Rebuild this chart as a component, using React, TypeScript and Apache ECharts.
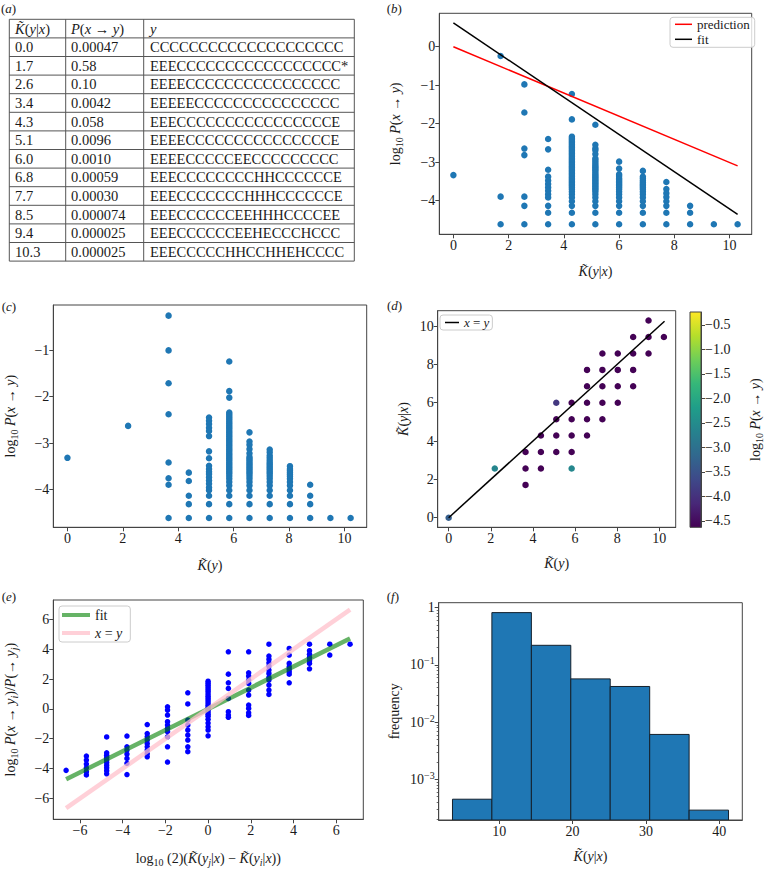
import React, { useEffect, useRef } from "react";
import * as echarts from "echarts";

const FONT = "Liberation Serif";
const TXT = "#1a1a1a";
const SPINE = "#444";
const KT = "K\u0303";

// ---------- (a) table ----------
const tableHeader = [`{i|${KT}}({i|y}|{i|x})`, "{i|P}({i|x} → {i|y})", "{i|y}"];
const tableK = ["0.0", "1.7", "2.6", "3.4", "4.3", "5.1", "6.0", "6.8", "7.7", "8.5", "9.4", "10.3"];
const tableP = ["0.00047", "0.58", "0.10", "0.0042", "0.058", "0.0096", "0.0010", "0.00059", "0.00030", "0.000074", "0.000025", "0.000025"];
const tableY = [
  "CCCCCCCCCCCCCCCCCCCC",
  "EEECCCCCCCCCCCCCCCCC*",
  "EEEECCCCCCCCCCCCCCCC",
  "EEEEECCCCCCCCCCCCCCC",
  "EEECCCCCCCCCCCCCCCCE",
  "EEEECCCCCCCCCCCCCCCE",
  "EEEECCCCCEECCCCCCCCC",
  "EEECCCCCCCCHHCCCCCCE",
  "EEECCCCCCCHHHCCCCCCE",
  "EEECCCCCCEEHHHCCCCEE",
  "EEECCCCCCEEHECCCHCCC",
  "EEECCCCCHHCCHHEHCCCC",
];

// ---------- (b) log10 P vs K(y|x) ----------
const bK = [0, 1.71, 2.57, 3.43, 4.29, 5.14, 6.0, 6.86, 7.71, 8.57, 9.43, 10.29];
const bLogP = [
  [-3.34],
  [-0.24, -3.9, -4.62],
  [-0.98, -1.71, -2.65, -2.82, -3.9, -4.14, -4.62],
  [-2.4, -2.67, -3.2, -3.38, -3.48, -3.57, -3.66, -3.75, -3.84, -3.92, -4.14, -4.32, -4.62],
  [-1.23, -1.89, -2.34, -2.38, -2.42, -2.46, -2.5, -2.54, -2.58, -2.62, -2.66, -2.7, -2.74, -2.78, -2.82, -2.86, -2.9, -2.94, -2.98, -3.02, -3.06, -3.1, -3.14, -3.18, -3.22, -3.26, -3.3, -3.34, -3.38, -3.42, -3.46, -3.5, -3.54, -3.58, -3.62, -3.66, -3.71, -3.77, -3.84, -3.92, -4.02, -4.14, -4.32, -4.62],
  [-2.03, -2.55, -2.64, -2.69, -2.79, -2.9, -2.95, -3.0, -3.05, -3.1, -3.14, -3.18, -3.22, -3.27, -3.32, -3.36, -3.4, -3.44, -3.48, -3.52, -3.56, -3.6, -3.64, -3.68, -3.72, -3.77, -3.84, -3.92, -4.02, -4.14, -4.32, -4.62],
  [-2.99, -3.17, -3.32, -3.36, -3.42, -3.46, -3.5, -3.54, -3.58, -3.62, -3.66, -3.71, -3.77, -3.84, -3.92, -4.02, -4.14, -4.32, -4.62],
  [-3.23, -3.38, -3.43, -3.48, -3.53, -3.58, -3.62, -3.66, -3.71, -3.77, -3.84, -3.92, -4.02, -4.14, -4.32, -4.62],
  [-3.52, -3.7, -3.81, -3.91, -4.02, -4.14, -4.32, -4.62],
  [-4.14, -4.32, -4.62],
  [-4.62],
  [-4.62],
];
const bPredLine = [[0, 0], [10.29, -3.1]];
const bFitLine = [[0, 0.62], [10.29, -4.36]];

// ---------- (c) log10 P vs K(y) ----------
const cK = [0, 2.19, 3.65, 4.38, 5.11, 5.84, 6.57, 7.3, 8.03, 8.76, 9.49, 10.22];
const cLogP = [
  [-3.32],
  [-2.63],
  [-0.25, -1.0, -1.71, -2.38, -3.42, -3.76, -3.9, -4.62],
  [-3.64, -3.82, -4.14, -4.32, -4.62],
  [-2.45, -2.52, -2.59, -2.67, -2.74, -2.85, -3.18, -3.33, -3.49, -3.56, -3.62, -3.67, -3.74, -3.81, -3.88, -3.96, -4.02, -4.14, -4.32, -4.62],
  [-1.24, -1.88, -2.02, -2.34, -2.38, -2.42, -2.46, -2.5, -2.54, -2.58, -2.62, -2.66, -2.7, -2.74, -2.78, -2.82, -2.86, -2.9, -2.94, -2.98, -3.02, -3.06, -3.1, -3.14, -3.18, -3.22, -3.26, -3.3, -3.34, -3.38, -3.42, -3.46, -3.5, -3.54, -3.58, -3.62, -3.66, -3.71, -3.77, -3.84, -3.92, -4.02, -4.14, -4.32, -4.62],
  [-2.77, -2.97, -3.04, -3.13, -3.22, -3.3, -3.34, -3.38, -3.42, -3.46, -3.5, -3.54, -3.58, -3.62, -3.66, -3.71, -3.77, -3.84, -3.92, -4.02, -4.14, -4.32, -4.62],
  [-3.14, -3.2, -3.27, -3.32, -3.37, -3.42, -3.46, -3.5, -3.54, -3.58, -3.62, -3.66, -3.71, -3.77, -3.84, -3.92, -4.02, -4.14, -4.32, -4.62],
  [-3.5, -3.56, -3.6, -3.64, -3.68, -3.72, -3.77, -3.84, -3.92, -4.02, -4.14, -4.32, -4.62],
  [-3.9, -4.14, -4.32, -4.62],
  [-4.62],
  [-4.62],
];

// ---------- (d) K(y|x) vs K(y), colour = log10 P ----------
const dKy = [0, 2.19, 3.65, 3.65, 3.65, 4.38, 4.38, 4.38, 5.11, 5.11, 5.11, 5.11, 5.84, 5.84, 5.84, 5.84, 5.84, 6.57, 6.57, 6.57, 6.57, 6.57, 7.3, 7.3, 7.3, 7.3, 7.3, 8.03, 8.03, 8.03, 8.03, 8.76, 8.76, 8.76, 8.76, 9.49, 9.49, 9.49, 10.22];
const dKyx = [0, 2.57, 1.71, 2.57, 3.43, 2.57, 3.43, 4.29, 3.43, 4.29, 5.14, 6.0, 2.57, 3.43, 4.29, 5.14, 6.0, 4.29, 5.14, 6.0, 6.86, 7.71, 5.14, 6.0, 6.86, 7.71, 8.57, 6.0, 6.86, 7.71, 8.57, 6.86, 7.71, 8.57, 9.43, 8.57, 9.43, 10.29, 9.43];
const dLogP = [-3.33, -2.63, -4.62, -4.62, -4.62, -4.62, -4.62, -4.62, -4.62, -4.62, -4.62, -3.9, -2.6, -4.62, -4.62, -4.62, -4.62, -4.62, -4.62, -4.62, -4.62, -4.62, -4.62, -4.62, -4.62, -4.62, -4.62, -4.62, -4.62, -4.62, -4.62, -4.62, -4.62, -4.62, -4.62, -4.62, -4.62, -4.62, -4.62];
const dDiag = [[0, 0], [10.25, 10.25]];
const viridis = ["#440154", "#482878", "#3e4989", "#31688e", "#26828e", "#1f9e89", "#35b779", "#6ece58", "#b5de2b", "#fde725"];
const cbTicks = [-4.5, -4.0, -3.5, -3.0, -2.5, -2.0, -1.5, -1.0, -0.5];

// ---------- (e) log ratio vs scaled K difference ----------
const eX = [-6.65, -5.7, -4.75, -3.8, -2.85, -1.9, -0.95, 0, 0.95, 1.9, 2.85, 3.8, 4.75, 5.7, 6.65];
const eY = [
  [-4.12],
  [-3.16, -3.43, -3.7, -3.95, -4.21, -4.43],
  [-1.88, -2.94, -3.1, -3.26, -3.42, -3.6, -3.78, -3.95, -4.14, -4.35],
  [-1.82, -2.54, -2.76, -3.03, -3.32, -3.65, -4.4],
  [-1.05, -1.65, -1.87, -2.09, -2.32, -2.54, -2.76, -3.0, -3.21],
  [0.14, -0.08, -0.41, -0.86, -1.08, -1.31, -1.53, -1.87, -2.54, -3.56],
  [1.08, 0.33, -0.75, -1.08, -1.42, -1.75, -2.09, -2.54, -2.87],
  [1.86, 1.72, 1.58, 1.44, 1.3, 1.16, 1.0, 0.85, 0.7, 0.55, 0.4, 0.25, 0.1, -0.05, -0.2, -0.35, -0.5, -0.7, -0.95, -1.2, -1.42, -1.8],
  [3.83, 2.33, 1.75, 1.37, 0.7, -0.19, -0.41, -0.56],
  [3.83, 2.42, 2.2, 1.93, 1.71, 1.26, 0.93, 0.26, 0.03, -0.26, -0.44],
  [4.34, 3.54, 3.32, 3.09, 2.87, 2.6, 2.38, 2.11, 1.93, 1.6, 1.26, 0.97],
  [4.05, 3.61, 3.05, 2.82, 2.65, 2.49, 2.33, 1.75],
  [4.34, 3.9, 3.67, 3.45, 3.23, 3.05, 2.69],
  [4.34, 3.61],
  [4.34],
];
const eFitLine = [[-6.65, -4.72], [6.65, 4.72]];
const eDiag = [[-6.65, -6.65], [6.65, 6.65]];

// ---------- (f) histogram ----------
const fEdges = [3.6, 8.98, 14.37, 19.75, 25.13, 30.52, 35.9, 41.28];
const fFreq = [0.00045, 0.82, 0.22, 0.057, 0.042, 0.0061, 0.00029];
const fTicksX = [10, 20, 30, 40];
const fTicksY = [-3, -2, -1, 0];
const fYMin = -3.71;
const fYMax = 0.087;

const minus = (v: number) => String(v).replace("-", "−");

const rich = {
  i: { fontFamily: FONT, fontSize: 14, fontStyle: "italic", color: TXT },
  n: { fontFamily: FONT, fontSize: 14, color: TXT },
  s: { fontFamily: FONT, fontSize: 10, color: TXT, padding: [8, 0, 0, 0] },
  si: { fontFamily: FONT, fontSize: 10, fontStyle: "italic", color: TXT, padding: [8, 0, 0, 0] },
  sup: { fontFamily: FONT, fontSize: 10, color: TXT, padding: [0, 0, 8, 0] },
};

function axis(gridIndex: number, min: number, max: number, ticks: number[], extra: any = {}) {
  return {
    type: "value",
    gridIndex,
    min,
    max,
    axisLine: { show: true, onZero: false, lineStyle: { color: SPINE, width: 1 } },
    axisTick: { show: true, inside: false, length: 4, customValues: ticks, lineStyle: { color: SPINE, width: 1 } },
    axisLabel: {
      show: true,
      customValues: ticks,
      formatter: minus,
      fontFamily: FONT,
      fontSize: 14,
      color: TXT,
      margin: 4,
      hideOverlap: false,
    },
    splitLine: { show: false },
    nameLocation: "middle",
    nameTextStyle: { fontFamily: FONT, fontSize: 14, color: TXT, rich },
    ...extra,
  };
}

function pairs(xs: number[], cols: number[][]) {
  const out: number[][] = [];
  xs.forEach((x, i) => cols[i].forEach((y) => out.push([x, y])));
  return out;
}

export default function App() {
  const ref = useRef<HTMLDivElement>(null);
  useEffect(() => {
    if (!ref.current) return;
    const chart = echarts.init(ref.current, null, { renderer: "svg" });

    // table graphic
    const tL = 9.3, tT = 19.3, tW = 345, rowH = 18.6;
    const colX = [9.3, 65.7, 143.7];
    const textX = [15, 71, 150];
    const nRows = tableK.length + 1;
    const tableEls: any[] = [];
    tableEls.push({ type: "rect", shape: { x: tL, y: tT, width: tW, height: rowH * nRows }, style: { fill: "none", stroke: "#555", lineWidth: 1 } });
    for (let r = 1; r < nRows; r++) {
      tableEls.push({ type: "line", shape: { x1: tL, y1: tT + r * rowH, x2: tL + tW, y2: tT + r * rowH }, style: { stroke: "#555", lineWidth: 1 } });
    }
    [colX[1], colX[2]].forEach((cx) =>
      tableEls.push({ type: "line", shape: { x1: cx, y1: tT, x2: cx, y2: tT + rowH * nRows }, style: { stroke: "#555", lineWidth: 1 } })
    );
    const cellText = (x: number, y: number, text: string) => ({
      type: "text",
      x,
      y,
      style: {
        text,
        fontFamily: FONT,
        fontSize: 14.5,
        fill: TXT,
        verticalAlign: "middle",
        align: "left",
        rich: { i: { fontFamily: FONT, fontSize: 14.5, fontStyle: "italic", fill: TXT, color: TXT } },
      },
    });
    tableHeader.forEach((h, c) => tableEls.push(cellText(textX[c], tT + rowH / 2, h)));
    tableK.forEach((k, r) => {
      const y = tT + rowH * (r + 1) + rowH / 2;
      tableEls.push(cellText(textX[0], y, k));
      tableEls.push(cellText(textX[1], y, tableP[r]));
      tableEls.push(cellText(textX[2], y, tableY[r]));
    });

    const panelLabel = (x: number, y: number, letter: string) => ({
      type: "text",
      x,
      y,
      style: {
        text: `({i|${letter}})`,
        fontFamily: FONT,
        fontSize: 13,
        fill: TXT,
        verticalAlign: "middle",
        rich: { i: { fontFamily: FONT, fontSize: 13, fontStyle: "italic", fill: TXT, color: TXT } },
      },
    });

    const minorF: number[] = [];
    for (let n = -4; n <= 0; n++) {
      for (let k = 2; k <= 9; k++) {
        const v = n + Math.log10(k);
        if (v > fYMin && v < fYMax) minorF.push(v);
      }
    }

    const gridStyle = { show: true, borderColor: SPINE, borderWidth: 1, containLabel: false };
    const fRect = { left: 438.7, top: 602.7, width: 303.6, height: 217.3 };

    const cbAxis: any = axis(3, -4.63, -0.24, cbTicks, { name: "log{s|10} {i|P}({i|x} → {i|y})", nameGap: 45, position: "right" });
    cbAxis.axisLabel.formatter = (v: number) => v.toFixed(1).replace("-", "−");

    const fYAxis: any = axis(5, fYMin, fYMax, fTicksY, { name: "frequency", nameGap: 37, position: "left" });
    fYAxis.axisLabel.formatter = (v: number) => (v === 0 ? "{n|1}" : `{n|10}{sup|${String(v).replace("-", "−")}}`);
    fYAxis.axisLabel.rich = rich;

    const option: any = {
      animation: false,
      textStyle: { fontFamily: FONT },
      grid: [
        { ...gridStyle, left: 439.3, top: 13.3, width: 312.4, height: 221 },
        { ...gridStyle, left: 53.3, top: 305, width: 313.4, height: 222.3 },
        { ...gridStyle, left: 437.7, top: 310.7, width: 238, height: 216.6 },
        {
          show: true,
          borderColor: SPINE,
          borderWidth: 1,
          left: 690,
          top: 312,
          width: 11,
          height: 215.3,
          backgroundColor: new echarts.graphic.LinearGradient(0, 1, 0, 0, viridis.map((c, i) => ({ offset: i / (viridis.length - 1), color: c }))),
        },
        { ...gridStyle, left: 53.3, top: 600, width: 310, height: 219.3 },
        { ...gridStyle, ...fRect },
        { show: false, ...fRect },
      ],
      xAxis: [
        axis(0, -0.51, 10.8, [0, 2, 4, 6, 8, 10], { name: `{i|${KT}}({i|y}|{i|x})`, nameGap: 30 }),
        axis(1, -0.51, 10.8, [0, 2, 4, 6, 8, 10], { name: `{i|${KT}}({i|y})`, nameGap: 31 }),
        axis(2, -0.52, 10.78, [0, 2, 4, 6, 8, 10], { name: `{i|${KT}}({i|y})`, nameGap: 29 }),
        { type: "value", gridIndex: 3, min: 0, max: 1, show: false },
        axis(4, -7.25, 7.27, [-6, -4, -2, 0, 2, 4, 6], {
          name: `log{s|10} (2)({i|${KT}}({i|y}{si|j}|{i|x}) − {i|${KT}}({i|y}{si|i}|{i|x}))`,
          nameGap: 30,
        }),
        axis(5, 1.72, 43.16, fTicksX, { name: `{i|${KT}}({i|y}|{i|x})`, nameGap: 29 }),
        { type: "value", gridIndex: 6, min: 1.72, max: 43.16, show: false },
      ],
      yAxis: [
        axis(0, -4.88, 0.87, [-4, -3, -2, -1, 0], { name: "log{s|10} {i|P}({i|x} → {i|y})", nameGap: 35 }),
        axis(1, -4.82, -0.02, [-4, -3, -2, -1], { name: "log{s|10} {i|P}({i|x} → {i|y})", nameGap: 34 }),
        axis(2, -0.5, 10.8, [0, 2, 4, 6, 8, 10], { name: `{i|${KT}}({i|y}|{i|x})`, nameGap: 27 }),
        cbAxis,
        axis(4, -7.4, 7.3, [-6, -4, -2, 0, 2, 4, 6], {
          name: "log{s|10} {i|P}({i|x} → {i|y}{si|i})/{i|P}(→ {i|y}{si|j})",
          nameGap: 34,
        }),
        fYAxis,
        {
          type: "value",
          gridIndex: 6,
          min: fYMin,
          max: fYMax,
          position: "left",
          axisLine: { show: false, onZero: false },
          axisLabel: { show: false },
          splitLine: { show: false },
          axisTick: { show: true, length: 2, customValues: minorF, lineStyle: { color: SPINE, width: 0.8 } },
        },
      ],
      visualMap: {
        type: "continuous",
        show: false,
        min: -4.63,
        max: -0.24,
        dimension: 2,
        seriesIndex: 4,
        inRange: { color: viridis },
      },
      legend: [
        {
          data: [
            { name: "prediction", icon: "rect" },
            { name: "fit", icon: "rect" },
          ],
          left: 670,
          top: 17.3,
          orient: "vertical",
          itemWidth: 17,
          itemHeight: 1.5,
          itemGap: 1,
          padding: [0, 5, 1, 5],
          borderColor: "#ccc",
          borderWidth: 1,
          borderRadius: 3,
          backgroundColor: "rgba(255,255,255,0.8)",
          selectedMode: false,
          textStyle: { fontFamily: FONT, fontSize: 13, color: TXT, lineHeight: 14 },
        },
        {
          data: [{ name: "x = y", icon: "rect" }],
          left: 440,
          top: 315,
          orient: "vertical",
          itemWidth: 14,
          itemHeight: 1.5,
          padding: [0, 3, 0, 5],
          borderColor: "#ccc",
          borderWidth: 1,
          borderRadius: 3,
          backgroundColor: "rgba(255,255,255,0.8)",
          selectedMode: false,
          formatter: () => "{i|x} = {i|y}",
          textStyle: { fontFamily: FONT, fontSize: 13, color: TXT, lineHeight: 15, rich: { i: { fontFamily: FONT, fontSize: 13, fontStyle: "italic", color: TXT } } },
        },
        {
          data: [
            { name: "fit ", icon: "rect" },
            { name: "x = y ", icon: "rect" },
          ],
          left: 59,
          top: 606,
          orient: "vertical",
          itemWidth: 28,
          itemHeight: 4,
          itemGap: 2,
          padding: [1, 8, 1, 3],
          borderColor: "#ccc",
          borderWidth: 1,
          borderRadius: 3,
          backgroundColor: "rgba(255,255,255,0.8)",
          selectedMode: false,
          formatter: (n: string) => (n.trim() === "x = y" ? "{i|x} = {i|y}" : n.trim()),
          textStyle: { fontFamily: FONT, fontSize: 14, color: TXT, lineHeight: 16, rich: { i: { fontFamily: FONT, fontSize: 14, fontStyle: "italic", color: TXT } } },
        },
      ],
      graphic: {
        elements: [
          ...tableEls,
          panelLabel(1, 8.5, "a"),
          panelLabel(386.7, 8.3, "b"),
          panelLabel(1.7, 306.7, "c"),
          panelLabel(387, 305.3, "d"),
          panelLabel(1.7, 596.7, "e"),
          panelLabel(386.7, 596.7, "f"),
        ],
      },
      series: [
        {
          type: "scatter",
          xAxisIndex: 0,
          yAxisIndex: 0,
          data: pairs(bK, bLogP),
          symbolSize: 6.5,
          itemStyle: { color: "#1f77b4", opacity: 1 },
        },
        {
          type: "line",
          name: "prediction",
          xAxisIndex: 0,
          yAxisIndex: 0,
          data: bPredLine,
          symbol: "none",
          color: "#ff0000",
          itemStyle: { color: "#ff0000" },
          lineStyle: { color: "#ff0000", width: 1.5 },
        },
        {
          type: "line",
          name: "fit",
          xAxisIndex: 0,
          yAxisIndex: 0,
          data: bFitLine,
          symbol: "none",
          color: "#000000",
          itemStyle: { color: "#000000" },
          lineStyle: { color: "#000000", width: 1.5 },
        },
        {
          type: "scatter",
          xAxisIndex: 1,
          yAxisIndex: 1,
          data: pairs(cK, cLogP),
          symbolSize: 6.5,
          itemStyle: { color: "#1f77b4", opacity: 1 },
        },
        {
          type: "scatter",
          xAxisIndex: 2,
          yAxisIndex: 2,
          data: dKy.map((x, i) => [x, dKyx[i], dLogP[i]]),
          symbolSize: 6.5,
          itemStyle: { opacity: 1 },
        },
        {
          type: "line",
          name: "x = y",
          xAxisIndex: 2,
          yAxisIndex: 2,
          data: dDiag,
          symbol: "none",
          color: "#000000",
          itemStyle: { color: "#000000" },
          lineStyle: { color: "#000000", width: 1.5 },
        },
        {
          type: "scatter",
          xAxisIndex: 4,
          yAxisIndex: 4,
          data: pairs(eX, eY),
          symbolSize: 5.5,
          itemStyle: { color: "#0000ff", opacity: 1 },
        },
        {
          type: "line",
          name: "fit ",
          xAxisIndex: 4,
          yAxisIndex: 4,
          data: eFitLine,
          symbol: "none",
          color: "rgba(0,128,0,0.6)",
          itemStyle: { color: "rgba(0,128,0,0.6)" },
          lineStyle: { color: "rgba(0,128,0,0.6)", width: 4.5 },
        },
        {
          type: "line",
          name: "x = y ",
          xAxisIndex: 4,
          yAxisIndex: 4,
          data: eDiag,
          symbol: "none",
          color: "rgba(255,192,203,0.75)",
          itemStyle: { color: "rgba(255,192,203,0.75)" },
          lineStyle: { color: "rgba(255,192,203,0.75)", width: 4.5 },
        },
        {
          type: "custom",
          xAxisIndex: 5,
          yAxisIndex: 5,
          data: fFreq.map((f, i) => [fEdges[i], fEdges[i + 1], Math.log10(f)]),
          encode: { x: [0, 1], y: 2 },
          clip: true,
          renderItem: (params: any, api: any) => {
            const p0 = api.coord([api.value(0), api.value(2)]);
            const p1 = api.coord([api.value(1), fYMin]);
            return {
              type: "rect",
              shape: { x: p0[0], y: p0[1], width: p1[0] - p0[0], height: p1[1] - p0[1] },
              style: { fill: "#1f77b4", stroke: "#14202c", lineWidth: 1 },
            };
          },
        },
      ],
    };
    chart.setOption(option);
    return () => chart.dispose();
  }, []);
  return <div ref={ref} style={{ position: "absolute", left: 0, top: 0, width: 765, height: 870 }} />;
}
